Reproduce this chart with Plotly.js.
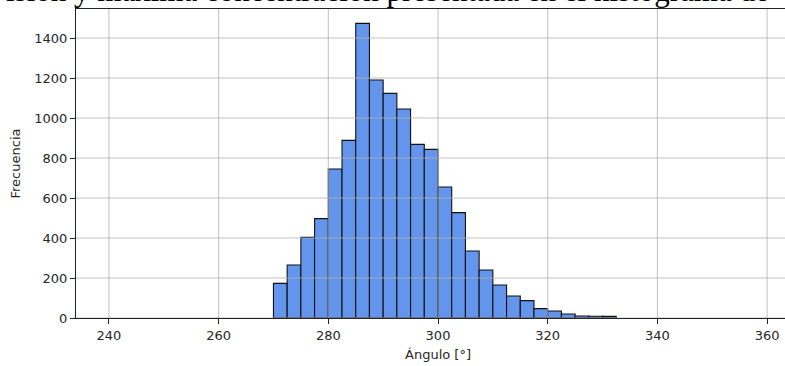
<!DOCTYPE html>
<html>
<head>
<meta charset="utf-8">
<script src="https://cdn.plot.ly/plotly-3.0.1.min.js"></script>
<style>
html,body{margin:0;padding:0;overflow:hidden;background:#fff;width:785px;height:366px;}
#chart{width:800px;height:366px;}
</style>
</head>
<body>
<div id="chart"></div>
<script>
// Histogram bins (left edges, bin width 2.5°) and their counts
const binLeft = [270, 272.5, 275, 277.5, 280, 282.5, 285, 287.5, 290, 292.5, 295, 297.5, 300,
                 302.5, 305, 307.5, 310, 312.5, 315, 317.5, 320, 322.5, 325, 327.5, 330];
const counts  = [173, 265, 403, 497, 745, 888, 1473, 1190, 1123, 1045, 868, 843, 655,
                 527, 335, 240, 165, 110, 87, 47, 35, 20, 10, 9, 8];
const binWidth = 2.5;
const xTicks = [240, 260, 280, 300, 320, 340, 360];
const yTicks = [0, 200, 400, 600, 800, 1000, 1200, 1400];
const xTitle = 'Ángulo [°]';
const yTitle = 'Frecuencia';
const captionText = 'isión y máxima concentración presentada en el histograma de';

const tickFont = {family: 'DejaVu Sans', size: 13, color: '#262626'};

const trace = {
  type: 'bar',
  x: binLeft,
  y: counts,
  offset: 0,
  width: binWidth,
  marker: {color: '#6495ED', line: {color: '#111111', width: 1.1}},
  hoverinfo: 'x+y'
};

const gridShapes = [];
xTicks.forEach(v => gridShapes.push({type:'line', layer:'above', xref:'x', yref:'paper',
  x0:v, x1:v, y0:0, y1:1, line:{color:'rgba(176,176,176,0.8)', width:1}}));
yTicks.forEach(v => gridShapes.push({type:'line', layer:'above', xref:'paper', yref:'y',
  x0:0, x1:1, y0:v, y1:v, line:{color:'rgba(176,176,176,0.8)', width:1}}));

const layout = {
  width: 800, height: 366,
  margin: {l: 76, r: 0, t: 9, b: 48, pad: 0},
  paper_bgcolor: '#fff', plot_bgcolor: '#fff',
  showlegend: false,
  bargap: 0,
  xaxis: {
    range: [234, 366], tickvals: xTicks, ticktext: xTicks.map(String),
    showgrid: false, zeroline: false,
    showline: true, mirror: true, linecolor: '#222', linewidth: 1,
    ticks: 'outside', ticklen: 5, tickwidth: 1, tickcolor: '#222',
    tickfont: tickFont,
    title: {text: xTitle, font: {family: 'DejaVu Sans', size: 13, color: '#262626'}, standoff: 8}
  },
  yaxis: {
    range: [0, 1545], tickvals: yTicks, ticktext: yTicks.map(String),
    showgrid: false, zeroline: false,
    showline: true, mirror: true, linecolor: '#222', linewidth: 1,
    ticks: 'outside', ticklen: 5, tickwidth: 1, tickcolor: '#222',
    tickfont: tickFont,
    title: {text: yTitle, font: {family: 'DejaVu Sans', size: 13, color: '#262626'}, standoff: 10}
  },
  shapes: gridShapes,
  annotations: [{
    text: captionText, xref: 'paper', yref: 'paper',
    x: -71/724, xanchor: 'left', y: 1, yanchor: 'bottom',
    showarrow: false, borderpad: 0,
    font: {family: 'Liberation Serif', size: 31, color: '#000'}
  }]
};

Plotly.newPlot('chart', [trace], layout, {displayModeBar: false, staticPlot: true});
</script>
</body>
</html>
